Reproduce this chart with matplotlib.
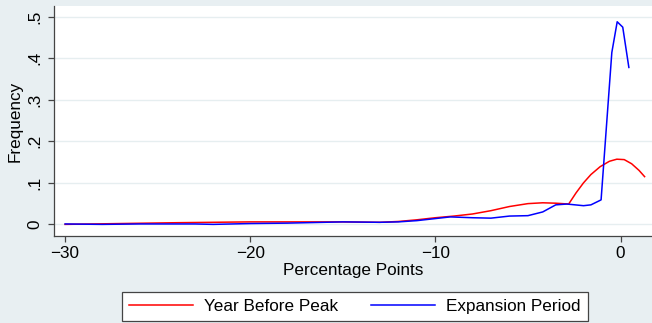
import matplotlib.pyplot as plt
import numpy as np

plt.rcParams['font.family'] = ['Liberation Sans', 'DejaVu Sans']

# Year Before Peak (red)
red_x = [-30, -27, -24, -22, -20, -17, -15, -13, -12, -11, -10, -9, -8, -7, -6, -5,
         -4.2, -3.5, -2.8, -2.4, -2.0, -1.6, -1.1, -0.6, -0.2, 0.2, 0.6, 1.0, 1.3]
red_y = [0.0, 0.002, 0.004, 0.005, 0.006, 0.006, 0.006, 0.005, 0.007, 0.011, 0.016,
         0.020, 0.025, 0.033, 0.043, 0.050, 0.052, 0.051, 0.049, 0.076, 0.100, 0.120,
         0.139, 0.152, 0.157, 0.156, 0.146, 0.130, 0.115]

# Expansion Period (blue)
blue_x = [-30, -28, -26, -25, -23, -22, -20, -18, -16, -15, -13, -12, -11, -10, -9.2,
          -8, -7, -6, -5, -4.2, -3.5, -2.9, -2.0, -1.6, -1.05, -0.47, -0.18, 0.12, 0.45]
blue_y = [0.001, 0.0, 0.001, 0.001, 0.001, 0.0, 0.002, 0.003, 0.005, 0.006, 0.005,
          0.006, 0.009, 0.014, 0.018, 0.016, 0.015, 0.020, 0.021, 0.030, 0.047, 0.049,
          0.045, 0.047, 0.059, 0.414, 0.488, 0.475, 0.378]

xticks = [-30, -20, -10, 0]
yticks = [0, 0.1, 0.2, 0.3, 0.4, 0.5]
ylabels = ['0', '.1', '.2', '.3', '.4', '.5']

fs = 12.3
bg = '#e8eff2'
fig = plt.figure(figsize=(6.52, 3.23), dpi=100, facecolor=bg)
ax = fig.add_axes([54 / 652, 87 / 323, 1 - 54 / 652, 230 / 323])
ax.set_facecolor('white')

ax.plot(red_x, red_y, color='red', linewidth=1.1, label='Year Before Peak')
ax.plot(blue_x, blue_y, color='blue', linewidth=1.1, label='Expansion Period')

ax.set_xlim(-30.6, 1.7)
ax.set_ylim(-0.028, 0.526)
ax.set_xticks(xticks)
ax.set_xticklabels(['\u221230', '\u221220', '\u221210', '0'])
ax.set_yticks(yticks)
ax.set_yticklabels(ylabels, rotation=90, va='center')

ax.grid(axis='y', color='#e6eef0', linewidth=1.0)
ax.set_axisbelow(True)

for s in ['top', 'right']:
    ax.spines[s].set_visible(False)
for s in ['left', 'bottom']:
    ax.spines[s].set_color('#444444')
    ax.spines[s].set_linewidth(0.9)

ax.tick_params(axis='both', length=4.5, width=0.9, color='#444444',
               labelsize=fs, labelcolor='black')
ax.tick_params(axis='x', pad=3)
ax.tick_params(axis='y', pad=4)

ax.set_xlabel('Percentage Points', fontsize=fs, labelpad=1)
ax.set_ylabel('Frequency', fontsize=fs, labelpad=3)

leg = fig.legend(loc='upper center', bbox_to_anchor=(355 / 652, 31 / 323), ncol=2,
                 fontsize=fs, handlelength=3.75, handletextpad=0.65,
                 columnspacing=1.9, fancybox=False, framealpha=1,
                 edgecolor='#444444', borderpad=0.4, borderaxespad=0)
leg.get_frame().set_linewidth(0.9)

fig.savefig('out.png', dpi=100, facecolor=bg)
